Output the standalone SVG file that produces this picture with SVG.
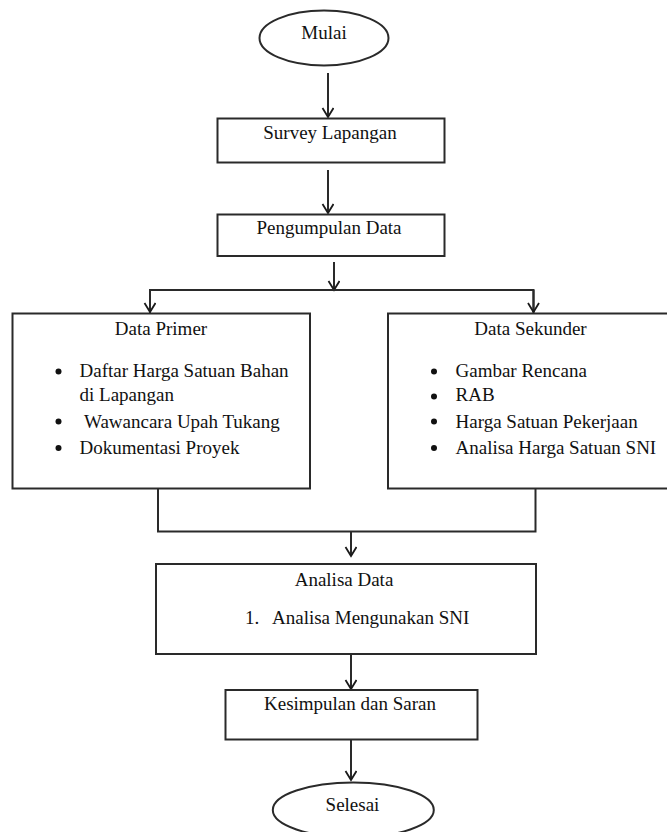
<svg xmlns="http://www.w3.org/2000/svg" width="667" height="832" viewBox="0 0 667 832">
<defs>
<marker id="arr" markerUnits="userSpaceOnUse" markerWidth="14" markerHeight="14" refX="10" refY="6" orient="auto">
<path d="M1,0.5 L10,6 L1,11.5" fill="none" stroke="#1a1a1a" stroke-width="1.8"/>
</marker>
<style>
.box{fill:#fff;stroke:#2a2a2a;stroke-width:2}
.ln{fill:none;stroke:#2a2a2a;stroke-width:2}
.t{font-family:"Liberation Serif","Times New Roman",serif;font-size:19px;fill:#111}
.c{text-anchor:middle}
.dot{fill:#111}
</style>
</defs>
<rect width="667" height="832" fill="#fff"/>
<g id="connectors">
<line class="ln" x1="328" y1="73" x2="328" y2="117" marker-end="url(#arr)"/>
<line class="ln" x1="328" y1="170" x2="328" y2="213" marker-end="url(#arr)"/>
<line class="ln" x1="334" y1="262" x2="334" y2="290" marker-end="url(#arr)"/>
<polyline class="ln" points="150,313 150,290 533.5,290 533.5,313"/>
<line class="ln" x1="150" y1="290" x2="150" y2="312" marker-end="url(#arr)"/>
<line class="ln" x1="533.5" y1="290" x2="533.5" y2="312" marker-end="url(#arr)"/>
<polyline class="ln" points="158,489 158,531.5 535.5,531.5 535.5,489"/>
<line class="ln" x1="351" y1="531.5" x2="351" y2="556" marker-end="url(#arr)"/>
<line class="ln" x1="351" y1="655" x2="351" y2="689" marker-end="url(#arr)"/>
<line class="ln" x1="351" y1="740" x2="351" y2="780" marker-end="url(#arr)"/>
</g>
<g id="mulai">
<ellipse class="box" cx="324" cy="38" rx="64.5" ry="27.5"/>
<text class="t c" x="324" y="39">Mulai</text>
</g>
<g id="survey">
<rect class="box" x="217.5" y="118.5" width="227" height="44"/>
<text class="t c" x="330" y="139">Survey Lapangan</text>
</g>
<g id="pengumpulan">
<rect class="box" x="217.5" y="214.5" width="227" height="41.5"/>
<text class="t c" x="329" y="234">Pengumpulan Data</text>
</g>
<g id="primer">
<rect class="box" x="12.5" y="313.5" width="297.5" height="175"/>
<text class="t c" x="161" y="335">Data Primer</text>
<circle class="dot" cx="58.5" cy="371.5" r="3"/>
<circle class="dot" cx="58.5" cy="421.5" r="3"/>
<circle class="dot" cx="58.5" cy="448" r="3"/>
<text class="t" x="79.5" y="377">Daftar Harga Satuan Bahan</text>
<text class="t" x="79.5" y="401">di Lapangan</text>
<text class="t" x="84" y="427.5">Wawancara  Upah Tukang</text>
<text class="t" x="79.5" y="453.5">Dokumentasi Proyek</text>
</g>
<g id="sekunder">
<rect class="box" x="388" y="313.5" width="298" height="175"/>
<text class="t c" x="530.5" y="335">Data Sekunder</text>
<circle class="dot" cx="434" cy="371.5" r="3"/>
<circle class="dot" cx="434" cy="396.5" r="3"/>
<circle class="dot" cx="434" cy="421.5" r="3"/>
<circle class="dot" cx="434" cy="448" r="3"/>
<text class="t" x="455.5" y="377">Gambar Rencana</text>
<text class="t" x="455.5" y="401">RAB</text>
<text class="t" x="455.5" y="427.5">Harga Satuan Pekerjaan</text>
<text class="t" x="455.5" y="454">Analisa Harga Satuan SNI</text>
</g>
<g id="analisa">
<rect class="box" x="156" y="564" width="380" height="90"/>
<text class="t c" x="344" y="585.5">Analisa Data</text>
<text class="t" x="245" y="624">1.</text>
<text class="t" x="272" y="624">Analisa Mengunakan SNI</text>
</g>
<g id="kesimpulan">
<rect class="box" x="225.5" y="690" width="252" height="49.5"/>
<text class="t c" x="350" y="710">Kesimpulan dan Saran</text>
</g>
<g id="selesai">
<ellipse class="box" cx="353.3" cy="810" rx="80.5" ry="27.5"/>
<text class="t c" x="352.5" y="810.5">Selesai</text>
</g>
</svg>
